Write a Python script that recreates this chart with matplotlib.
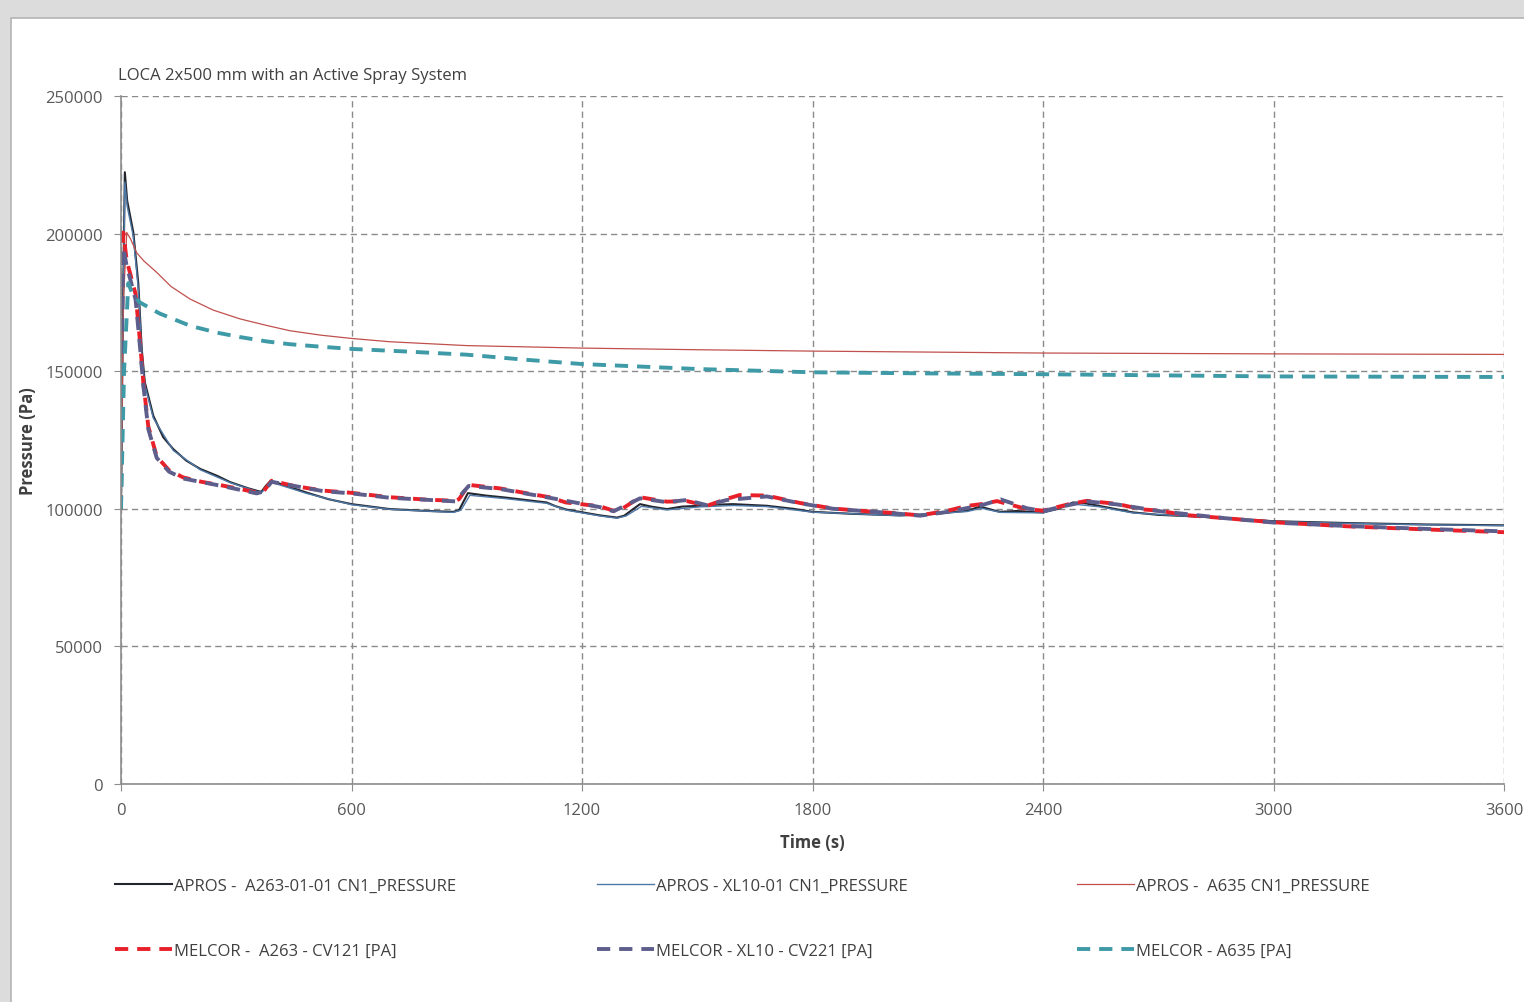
import numpy as np
import matplotlib
matplotlib.use("Agg")
import matplotlib.pyplot as plt
from matplotlib.patches import Rectangle

plt.rcParams['font.family'] = ['Open Sans', 'DejaVu Sans']

# APROS A263-01-01 (time s, pressure kPa)
t_apros_a263 = [0, 4, 10, 16, 32, 45, 54, 62, 84, 110, 136, 170, 206, 250, 284, 330, 365, 378, 390, 420,
                483, 540, 600, 700, 800, 865, 880, 903, 950, 1000, 1108, 1130, 1160, 1247, 1291, 1310, 1351,
                1380, 1421, 1460, 1507, 1550, 1593, 1681, 1750, 1800, 1900, 2028, 2115, 2202, 2237, 2270,
                2288, 2330, 2400, 2440, 2478, 2510, 2548, 2634, 2700, 2800, 2900, 3000, 3200, 3400, 3600]
p_apros_a263 = [100, 160, 222.3, 212, 200.5, 182, 158, 146, 133.8, 126, 121.7, 117.5, 114.5, 112, 109.7, 107.5,
                106.1, 108.5, 110.2, 108.8, 105.9, 103.5, 101.7, 99.9, 99.2, 98.9, 99.5, 105.7, 104.8, 104.1,
                102.3, 101.0, 99.7, 97.6, 96.8, 97.5, 101.7, 100.8, 99.9, 100.8, 101.1, 101.5, 101.7, 101.1,
                100.0, 98.9, 98.2, 97.6, 98.1, 99.3, 100.8, 99.5, 98.9, 99.2, 98.7, 100.0, 102.3, 102.0, 101.0,
                98.7, 97.8, 97.2, 96.4, 95.5, 94.8, 94.3, 94.0]

# APROS XL10-01
t_apros_xl10 = [0, 4, 10, 16, 32, 45, 54, 62, 84, 136, 206, 284, 365, 378, 392, 483, 600, 700, 865, 885, 908,
                1000, 1108, 1160, 1247, 1291, 1315, 1355, 1421, 1507, 1593, 1681, 1800, 2028, 2202, 2240, 2290,
                2400, 2480, 2548, 2634, 2800, 3000, 3200, 3400, 3600]
p_apros_xl10 = [100, 155, 218.7, 210, 199, 180, 157, 145, 133, 121.2, 114.2, 109.5, 105.8, 107.5, 109.6, 105.6,
                101.5, 99.8, 98.7, 99.5, 104.9, 103.7, 102.0, 99.5, 97.4, 96.6, 97.4, 100.9, 99.6, 100.7, 101.2,
                100.8, 98.8, 97.5, 99.0, 100.2, 98.7, 98.5, 101.7, 100.7, 98.5, 97.1, 95.4, 94.7, 94.2, 93.9]

# APROS A635
t_apros_a635 = [0, 6, 15, 25, 41, 60, 93, 130, 180, 240, 310, 380, 440, 520, 600, 700, 900, 1200, 1500, 1800,
                2400, 3000, 3600]
p_apros_a635 = [100, 175, 200.4, 198, 193, 190, 185.9, 180.8, 176.2, 172.2, 169, 166.6, 164.7, 163.1, 161.9,
                160.7, 159.3, 158.4, 157.8, 157.3, 156.6, 156.3, 156.1]

# MELCOR A263 - CV121
t_melcor_a263 = [0, 3, 6, 15, 23, 38, 50, 58, 71, 93, 125, 162, 210, 266, 310, 353, 372, 392, 450, 527, 600,
                 700, 800, 870, 880, 905, 987, 1050, 1116, 1158, 1247, 1282, 1300, 1351, 1421, 1473, 1525, 1577,
                 1610, 1681, 1768, 1854, 1950, 2010, 2080, 2158, 2200, 2245, 2280, 2358, 2400, 2462, 2514, 2592,
                 2657, 2705, 2765, 2873, 3000, 3198, 3416, 3600]
p_melcor_a263 = [100, 170, 200.4, 190, 186, 178, 160, 146, 130, 119, 114, 111.4, 109.8, 108.4, 107.2, 105.9,
                 106.5, 110.2, 108.3, 106.6, 105.8, 104.2, 103.3, 102.9, 103.5, 108.7, 107.4, 105.8, 104.2, 102.3,
                 100.9, 99.3, 99.6, 104.2, 102.6, 102.8, 101.1, 103.6, 105.0, 104.8, 102.1, 100.1, 99.0, 98.5,
                 97.6, 99.5, 101.0, 101.8, 102.8, 99.9, 99.3, 101.5, 102.9, 101.8, 99.8, 99.3, 97.8, 96.6, 95.1,
                 93.6, 92.4, 91.5]

# MELCOR XL10 - CV221
t_melcor_xl10 = [0, 3, 6, 15, 23, 38, 50, 58, 71, 93, 125, 162, 266, 353, 372, 392, 527, 600, 700, 870, 905,
                 987, 1116, 1247, 1282, 1351, 1421, 1473, 1525, 1577, 1681, 1768, 1854, 2010, 2080, 2158, 2245,
                 2290, 2358, 2400, 2462, 2514, 2592, 2705, 2873, 3000, 3198, 3416, 3600]
p_melcor_xl10 = [100, 165, 195, 188, 184, 176, 158, 145, 129, 118.5, 113.5, 111, 108.2, 105.6, 106.3, 109.8,
                 106.4, 105.6, 104.0, 102.7, 108.3, 107.2, 104.0, 100.6, 99.1, 103.8, 102.4, 103.2, 101.3, 103.2,
                 104.5, 102.0, 100.0, 98.4, 97.5, 99.0, 101.5, 103.4, 100.2, 99.2, 101.2, 102.7, 101.6, 99.1,
                 96.6, 95.0, 93.7, 92.6, 91.8]

# MELCOR A635
t_melcor_a635 = [0, 8, 19, 30, 49, 100, 180, 250, 310, 380, 440, 520, 600, 750, 900, 1050, 1200, 1500, 1800,
                 2100, 2400, 2700, 3000, 3300, 3600]
p_melcor_a635 = [100, 150, 182, 178, 175, 171, 166.5, 164, 162.4, 160.8, 159.8, 158.9, 158.1, 157.1, 156.0,
                 154.2, 152.6, 150.8, 149.6, 149.2, 148.9, 148.5, 148.1, 148.0, 147.9]

x_ticks = [0, 600, 1200, 1800, 2400, 3000, 3600]
y_ticks = [0, 50000, 100000, 150000, 200000, 250000]

W, H = 1524, 1003
fs = 12
fig = plt.figure(figsize=(W / 100, H / 100), dpi=100, facecolor='#dcdcdc')
fig.patches.append(Rectangle((11 / W, -0.01), 1.0, 1 - 19 / H + 0.01, transform=fig.transFigure,
                             facecolor='white', edgecolor='#b4b4b4', lw=1.2, zorder=-10))

ax = fig.add_axes([121 / W, 1 - 785 / H, (1504 - 121) / W, (785 - 97) / H])
ax.set_facecolor('none')

kpa = 1000.0
l1, = ax.plot(t_apros_a263, np.array(p_apros_a263) * kpa, color='#23262e', lw=1.5,
              label='APROS -  A263-01-01 CN1_PRESSURE')
l2, = ax.plot(t_apros_xl10, np.array(p_apros_xl10) * kpa, color='#4f79a8', lw=1.0,
              label='APROS - XL10-01 CN1_PRESSURE')
l3, = ax.plot(t_apros_a635, np.array(p_apros_a635) * kpa, color='#c0504d', lw=0.9,
              label='APROS -  A635 CN1_PRESSURE')
dash = (3.4, 2.3)
l4, = ax.plot(t_melcor_a263, np.array(p_melcor_a263) * kpa, color='#e8202a', lw=2.8, dashes=dash,
              label='MELCOR -  A263 - CV121 [PA]')
l5, = ax.plot(t_melcor_xl10, np.array(p_melcor_xl10) * kpa, color='#5e5e8c', lw=2.8, dashes=dash,
              label='MELCOR - XL10 - CV221 [PA]')
l6, = ax.plot(t_melcor_a635, np.array(p_melcor_a635) * kpa, color='#3e9aa6', lw=2.8, dashes=dash,
              label='MELCOR - A635 [PA]')

ax.set_xlim(0, 3600)
ax.set_ylim(0, 250000)
ax.set_xticks(x_ticks)
ax.set_yticks(y_ticks)
ax.set_xticklabels([str(v) for v in x_ticks])
ax.set_yticklabels([str(v) for v in y_ticks])
ax.grid(True, color='#8a8a8a', lw=1.0, dashes=(4.5, 3.0))
for s in ['top', 'right']:
    ax.spines[s].set_visible(False)
for s in ['left', 'bottom']:
    ax.spines[s].set_color('#8c8c8c')
    ax.spines[s].set_linewidth(1.2)
ax.tick_params(direction='out', length=5, color='#8c8c8c', labelcolor='#595959', labelsize=fs)
ax.tick_params(axis='y', pad=8)
ax.tick_params(axis='x', pad=8)

fig.text(118 / W, 1 - 76 / H, 'LOCA 2x500 mm with an Active Spray System', ha='left', va='center',
         fontsize=fs, color='#404040')
fig.text(28 / W, 1 - 441 / H, 'Pressure (Pa)', rotation=90, ha='center', va='center',
         fontsize=fs, fontweight='bold', color='#404040')
fig.text(812 / W, 1 - 843 / H, 'Time (s)', ha='center', va='center',
         fontsize=fs, fontweight='bold', color='#404040')

cols = [(115, [l1, l4]), (597, [l2, l5]), (1077, [l3, l6])]
for x0, hs in cols:
    fig.legend(handles=hs, loc='upper left', bbox_to_anchor=(x0 / W, 1 - 879 / H),
               frameon=False, fontsize=fs, handlelength=3.4, handletextpad=0.12,
               labelspacing=2.95, borderpad=0, borderaxespad=0, labelcolor='#404040')

fig.savefig('out.png', dpi=100, facecolor=fig.get_facecolor())
